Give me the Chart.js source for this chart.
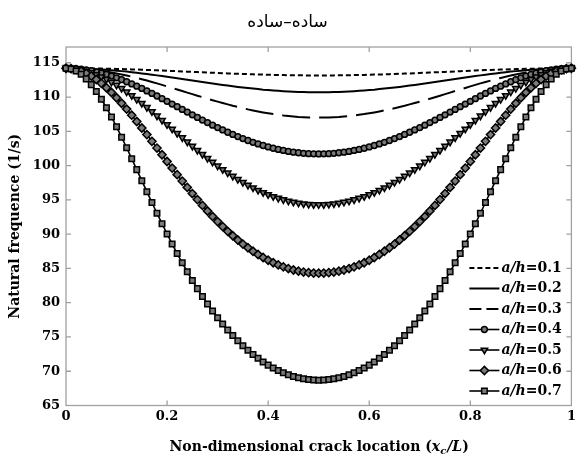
<!DOCTYPE html>
<html><head><meta charset="utf-8">
<script src="https://cdn.jsdelivr.net/npm/chart.js@4"></script>
<style>html,body{margin:0;padding:0;background:#fff}</style>
</head><body>
<canvas id="c" width="577" height="462"></canvas>
<script>
const chartTitle = 'ساده–ساده';
const yAxisTitle = 'Natural frequence (1/s)';
const xAxisTitle = 'Non-dimensional crack location';
const seriesNames = ['a/h=0.1','a/h=0.2','a/h=0.3','a/h=0.4','a/h=0.5','a/h=0.6','a/h=0.7'];
const xTicks = [0,0.2,0.4,0.6,0.8,1];
const xTickLabels = ['0','0.2','0.4','0.6','0.8','1'];
const yTicks = [65,70,75,80,85,90,95,100,105,110,115];

const crackLocation = [0,0.01,0.02,0.03,0.04,0.05,0.06,0.07,0.08,0.09,
0.10,0.11,0.12,0.13,0.14,0.15,0.16,0.17,0.18,0.19,
0.20,0.21,0.22,0.23,0.24,0.25,0.26,0.27,0.28,0.29,
0.30,0.31,0.32,0.33,0.34,0.35,0.36,0.37,0.38,0.39,
0.40,0.41,0.42,0.43,0.44,0.45,0.46,0.47,0.48,0.49,
0.50,0.51,0.52,0.53,0.54,0.55,0.56,0.57,0.58,0.59,
0.60,0.61,0.62,0.63,0.64,0.65,0.66,0.67,0.68,0.69,
0.70,0.71,0.72,0.73,0.74,0.75,0.76,0.77,0.78,0.79,
0.80,0.81,0.82,0.83,0.84,0.85,0.86,0.87,0.88,0.89,
0.90,0.91,0.92,0.93,0.94,0.95,0.96,0.97,0.98,0.99,1.00];

const freqAh01 = [114.20,114.20,114.20,114.19,114.18,114.17,114.16,114.15,114.13,114.12,
114.10,114.08,114.06,114.03,114.01,113.98,113.95,113.93,113.90,113.87,
113.83,113.80,113.77,113.74,113.70,113.67,113.64,113.61,113.57,113.54,
113.51,113.48,113.45,113.42,113.39,113.36,113.34,113.31,113.29,113.27,
113.25,113.23,113.21,113.20,113.19,113.18,113.17,113.16,113.15,113.15,
113.15,
113.15,113.15,113.16,113.17,113.18,113.19,113.20,113.21,113.23,113.25,
113.27,113.29,113.31,113.34,113.36,113.39,113.42,113.45,113.48,113.51,
113.54,113.57,113.61,113.64,113.67,113.70,113.74,113.77,113.80,113.83,
113.87,113.90,113.93,113.95,113.98,114.01,114.03,114.06,114.08,114.10,
114.12,114.13,114.15,114.16,114.17,114.18,114.19,114.20,114.20,114.20];

const freqAh02 = [114.20,114.20,114.19,114.17,114.14,114.11,114.07,114.03,113.97,113.92,
113.85,113.78,113.71,113.63,113.54,113.45,113.36,113.26,113.16,113.06,
112.95,112.85,112.74,112.63,112.52,112.41,112.30,112.19,112.08,111.98,
111.87,111.77,111.67,111.58,111.48,111.39,111.31,111.23,111.16,111.08,
111.02,110.96,110.91,110.86,110.82,110.78,110.75,110.73,110.71,110.70,
110.70,
110.70,110.71,110.73,110.75,110.78,110.82,110.86,110.91,110.96,111.02,
111.08,111.16,111.23,111.31,111.39,111.48,111.58,111.67,111.77,111.87,
111.98,112.08,112.19,112.30,112.41,112.52,112.63,112.74,112.85,112.95,
113.06,113.16,113.26,113.36,113.45,113.54,113.63,113.71,113.78,113.85,
113.92,113.97,114.03,114.07,114.11,114.14,114.17,114.19,114.20,114.20];

const freqAh03 = [114.20,114.19,114.17,114.13,114.08,114.01,113.92,113.82,113.71,113.59,
113.45,113.30,113.14,112.97,112.79,112.60,112.40,112.20,111.99,111.77,
111.55,111.33,111.10,110.88,110.65,110.42,110.20,109.98,109.76,109.54,
109.33,109.13,108.93,108.73,108.55,108.37,108.20,108.05,107.90,107.76,
107.63,107.51,107.41,107.31,107.23,107.16,107.10,107.06,107.03,107.01,
107.00,
107.01,107.03,107.06,107.10,107.16,107.23,107.31,107.41,107.51,107.63,
107.76,107.90,108.05,108.20,108.37,108.55,108.73,108.93,109.13,109.33,
109.54,109.76,109.98,110.20,110.42,110.65,110.88,111.10,111.33,111.55,
111.77,111.99,112.20,112.40,112.60,112.79,112.97,113.14,113.30,113.45,
113.59,113.71,113.82,113.92,114.01,114.08,114.13,114.17,114.19,114.20];

const freqAh04 = [114.20,114.19,114.14,114.07,113.97,113.84,113.68,113.50,113.29,113.06,
112.80,112.53,112.23,111.92,111.59,111.25,110.89,110.52,110.15,109.76,
109.38,108.98,108.59,108.19,107.80,107.41,107.02,106.64,106.27,105.90,
105.54,105.20,104.86,104.54,104.23,103.94,103.66,103.40,103.16,102.93,
102.72,102.53,102.36,102.21,102.07,101.96,101.87,101.79,101.74,101.71,
101.70,
101.71,101.74,101.79,101.87,101.96,102.07,102.21,102.36,102.53,102.72,
102.93,103.16,103.40,103.66,103.94,104.23,104.54,104.86,105.20,105.54,
105.90,106.27,106.64,107.02,107.41,107.80,108.19,108.59,108.98,109.38,
109.76,110.15,110.52,110.89,111.25,111.59,111.92,112.23,112.53,112.80,
113.06,113.29,113.50,113.68,113.84,113.97,114.07,114.14,114.19,114.20];

const freqAh05 = [114.20,114.17,114.09,113.96,113.78,113.55,113.28,112.95,112.59,112.18,
111.74,111.26,110.75,110.22,109.66,109.08,108.48,107.87,107.24,106.61,
105.98,105.34,104.71,104.07,103.45,102.83,102.23,101.64,101.06,100.50,
99.95,99.43,98.93,98.45,97.99,97.55,97.14,96.76,96.40,96.07,
95.77,95.49,95.24,95.02,94.83,94.67,94.54,94.43,94.36,94.31,
94.30,
94.31,94.36,94.43,94.54,94.67,94.83,95.02,95.24,95.49,95.77,
96.07,96.40,96.76,97.14,97.55,97.99,98.45,98.93,99.43,99.95,
100.50,101.06,101.64,102.23,102.83,103.45,104.07,104.71,105.34,105.98,
106.61,107.24,107.87,108.48,109.08,109.66,110.22,110.75,111.26,111.74,
112.18,112.59,112.95,113.28,113.55,113.78,113.96,114.09,114.17,114.20];

const freqAh06 = [114.20,114.15,114.01,113.78,113.46,113.05,112.56,112.00,111.36,110.66,
109.90,109.09,108.24,107.35,106.43,105.48,104.52,103.54,102.56,101.58,
100.60,99.63,98.68,97.74,96.82,95.92,95.04,94.19,93.37,92.58,
91.83,91.10,90.41,89.76,89.14,88.55,88.01,87.50,87.03,86.59,
86.19,85.83,85.51,85.23,84.98,84.77,84.60,84.47,84.38,84.32,
84.30,
84.32,84.38,84.47,84.60,84.77,84.98,85.23,85.51,85.83,86.19,
86.59,87.03,87.50,88.01,88.55,89.14,89.76,90.41,91.10,91.83,
92.58,93.37,94.19,95.04,95.92,96.82,97.74,98.68,99.63,100.60,
101.58,102.56,103.54,104.52,105.48,106.43,107.35,108.24,109.09,109.90,
110.66,111.36,112.00,112.56,113.05,113.46,113.78,114.01,114.15,114.20];

const freqAh07 = [114.20,114.10,113.80,113.32,112.65,111.81,110.82,109.69,108.44,107.09,
105.65,104.15,102.60,101.01,99.41,97.80,96.20,94.61,93.05,91.52,
90.02,88.57,87.17,85.81,84.51,83.25,82.05,80.91,79.82,78.79,
77.81,76.89,76.02,75.20,74.43,73.72,73.06,72.44,71.88,71.36,
70.89,70.47,70.10,69.77,69.48,69.24,69.05,68.90,68.79,68.72,
68.70,
68.72,68.79,68.90,69.05,69.24,69.48,69.77,70.10,70.47,70.89,
71.36,71.88,72.44,73.06,73.72,74.43,75.20,76.02,76.89,77.81,
78.79,79.82,80.91,82.05,83.25,84.51,85.81,87.17,88.57,90.02,
91.52,93.05,94.61,96.20,97.80,99.41,101.01,102.60,104.15,105.65,
107.09,108.44,109.69,110.82,111.81,112.65,113.32,113.80,114.10,114.20];

const seriesValues = [freqAh01, freqAh02, freqAh03, freqAh04, freqAh05, freqAh06, freqAh07];

const seriesStyles = [
  {borderDash:[5,3], legendDash:[5,3], borderWidth:2, pointRadius:0},
  {borderDash:[], legendDash:[], borderWidth:2, pointRadius:0},
  {borderDash:[28,9], legendDash:[12,5], borderWidth:2, pointRadius:0},
  {borderDash:[], legendDash:[], borderWidth:1.6, pointStyle:'circle', pointRadius:2.9, pointRotation:0},
  {borderDash:[], legendDash:[], borderWidth:1.6, pointStyle:'triangle', pointRadius:3.7, pointRotation:180},
  {borderDash:[], legendDash:[], borderWidth:1.6, pointStyle:'rectRot', pointRadius:4.1, pointRotation:0},
  {borderDash:[], legendDash:[], borderWidth:1.6, pointStyle:'rect', pointRadius:3.9, pointRotation:0}
];

const serif = '"DejaVu Serif", serif';

const datasets = seriesValues.map((vals, i) => Object.assign({
  label: seriesNames[i],
  data: crackLocation.map((x, j) => ({x: x, y: vals[j]})),
  borderColor: '#000',
  backgroundColor: '#7a7a7a',
  pointBackgroundColor: '#7a7a7a',
  pointBorderColor: '#000',
  pointBorderWidth: 1.5,
  pointHoverRadius: 0,
  tension: 0,
  fill: false,
  clip: false,
  order: seriesValues.length - i
}, seriesStyles[i]));

const boxPlugin = {
  id: 'boxTicks',
  beforeDatasetsDraw(chart) {
    const {ctx, chartArea: a, scales: {x, y}} = chart;
    ctx.save();
    ctx.strokeStyle = '#a0a0a0';
    ctx.lineWidth = 1.3;
    ctx.strokeRect(a.left, a.top, a.right - a.left, a.bottom - a.top);
    ctx.beginPath();
    x.ticks.forEach(t => {
      const p = x.getPixelForValue(t.value);
      if (p <= a.left + 1 || p >= a.right - 1) return;
      ctx.moveTo(p, a.bottom); ctx.lineTo(p, a.bottom - 5);
      ctx.moveTo(p, a.top); ctx.lineTo(p, a.top + 5);
    });
    y.ticks.forEach(t => {
      const p = y.getPixelForValue(t.value);
      if (p >= a.bottom - 1 || p <= a.top + 1) return;
      ctx.moveTo(a.left, p); ctx.lineTo(a.left + 5, p);
      ctx.moveTo(a.right, p); ctx.lineTo(a.right - 5, p);
    });
    ctx.stroke();
    ctx.restore();
  }
};

const legendPlugin = {
  id: 'mixedLegend',
  afterDraw(chart) {
    const {ctx, chartArea: a} = chart;
    const n = chart.data.datasets.length;
    const rowH = 20.5;
    const x0 = a.right - 102;
    const yLast = a.bottom - 14.5;
    chart.data.datasets.forEach((ds, i) => {
      const yy = yLast - (n - 1 - i) * rowH;
      ctx.save();
      ctx.strokeStyle = '#000';
      ctx.lineWidth = ds.borderWidth;
      ctx.setLineDash(ds.legendDash || []);
      ctx.beginPath(); ctx.moveTo(x0, yy); ctx.lineTo(x0 + 30, yy); ctx.stroke();
      ctx.setLineDash([]);
      if (ds.pointRadius > 0) {
        ctx.fillStyle = ds.pointBackgroundColor;
        ctx.strokeStyle = ds.pointBorderColor;
        ctx.lineWidth = ds.pointBorderWidth;
        Chart.helpers.drawPoint(ctx, {pointStyle: ds.pointStyle, rotation: ds.pointRotation, radius: ds.pointRadius, borderWidth: ds.pointBorderWidth}, x0 + 15, yy);
      }
      const parts = ds.label.split('=');
      ctx.fillStyle = '#000';
      ctx.textAlign = 'left';
      ctx.textBaseline = 'middle';
      ctx.font = 'italic bold 14px ' + serif;
      ctx.fillText(parts[0], x0 + 32, yy);
      const w = ctx.measureText(parts[0]).width;
      ctx.font = 'bold 14px ' + serif;
      ctx.fillText('=' + parts[1], x0 + 32 + w, yy);
      ctx.restore();
    });
  }
};

const xTitlePlugin = {
  id: 'xTitle',
  afterDraw(chart) {
    const {ctx, chartArea: a} = chart;
    const cx = (a.left + a.right) / 2;
    const yy = 447;
    const pieces = [
      {t: xAxisTitle + ' (', f: 'bold 14px ' + serif, dy: 0},
      {t: 'x', f: 'italic bold 14px ' + serif, dy: 0},
      {t: 'c', f: 'italic bold 10px ' + serif, dy: 4},
      {t: '/L', f: 'italic bold 14px ' + serif, dy: 0},
      {t: ')', f: 'bold 14px ' + serif, dy: 0}
    ];
    ctx.save();
    let total = 0;
    pieces.forEach(p => { ctx.font = p.f; p.w = ctx.measureText(p.t).width; total += p.w; });
    let xx = cx - total / 2;
    ctx.fillStyle = '#000';
    ctx.textAlign = 'left';
    ctx.textBaseline = 'middle';
    pieces.forEach(p => { ctx.font = p.f; ctx.fillText(p.t, xx, yy + p.dy); xx += p.w + (p.t === 'c' ? 1 : 0); });
    ctx.restore();
  }
};

new Chart(document.getElementById('c'), {
  type: 'line',
  data: {datasets: datasets},
  plugins: [boxPlugin, legendPlugin, xTitlePlugin],
  options: {
    responsive: false,
    animation: false,
    devicePixelRatio: 1,
    events: [],
    layout: {padding: {left: 0, right: 2, top: 0, bottom: 0}},
    plugins: {
      legend: {display: false},
      tooltip: {enabled: false},
      title: {display: true, text: chartTitle, color: '#000',
        font: {family: '"DejaVu Sans", sans-serif', size: 17, weight: 'normal'},
        padding: {top: 12, bottom: 14.6}}
    },
    scales: {
      x: {
        type: 'linear', min: 0, max: 1,
        afterBuildTicks: s => { s.ticks = xTicks.map(v => ({value: v})); },
        ticks: {callback: (v, i) => xTickLabels[i], color: '#000', padding: 3, maxRotation: 0, autoSkip: false,
          font: {family: serif, size: 13, weight: 'bold'}},
        grid: {display: false, drawTicks: false},
        border: {display: false},
        afterFit: s => { s.height = 56.5; s.paddingLeft = 0; s.paddingRight = 0; }
      },
      y: {
        type: 'linear', min: 65, max: 117.3,
        afterBuildTicks: s => { s.ticks = yTicks.map(v => ({value: v})); },
        ticks: {callback: v => String(v), color: '#000', padding: 6, autoSkip: false,
          font: {family: serif, size: 13, weight: 'bold'}},
        grid: {display: false, drawTicks: false},
        border: {display: false},
        title: {display: true, text: yAxisTitle, color: '#000',
          font: {family: serif, size: 14, weight: 'bold'}, padding: {top: 6.6, bottom: 0}},
        afterFit: s => { s.width = 66; s.paddingTop = 0; s.paddingBottom = 0; }
      }
    }
  }
});
</script>
</body></html>
